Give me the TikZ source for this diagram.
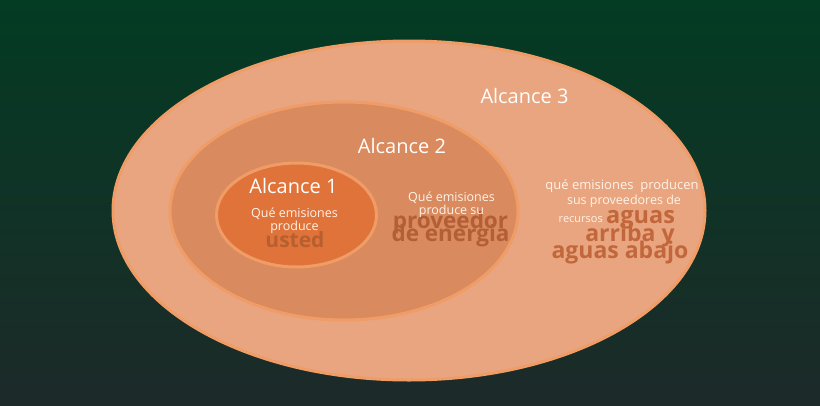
\documentclass[tikz,border=0pt]{standalone}
\usepackage{fontspec}
\setmainfont{Open Sans}
\definecolor{bgtop}{HTML}{033B23}
\definecolor{bgbot}{HTML}{1D2A29}
\definecolor{rim}{HTML}{F09C66}
\definecolor{outerfill}{HTML}{E8A57F}
\definecolor{midfill}{HTML}{D98A5E}
\definecolor{innerfill}{HTML}{E0733A}
\definecolor{boldout}{HTML}{C2673B}
\definecolor{boldmid}{HTML}{B45E36}
\definecolor{boldin}{HTML}{B65F30}
\definecolor{lighttext}{HTML}{FFF3E8}
\tikzset{
  ring/.style={draw=rim, line width=3pt},
  title/.style={text=white, font=\fontsize{20}{20}\selectfont, anchor=base, inner sep=0pt},
  small/.style={text=lighttext, font=\fontsize{12.5}{12.5}\selectfont, anchor=base, inner sep=0pt},
  big/.style={font=\bfseries\fontsize{21}{21}\selectfont, anchor=base, inner sep=0pt}
}
\begin{document}
\begin{tikzpicture}[x=1pt,y=-1pt]
\shade[top color=bgtop, bottom color=bgbot] (0,0) rectangle (820,405);
\useasboundingbox (0,0) rectangle (820,405);
% ellipses
\fill[outerfill] (409,210.5) ellipse [x radius=296, y radius=169.5];
\draw[ring] (409,210.5) ellipse [x radius=296, y radius=169.5];
\fill[midfill] (344,211) ellipse [x radius=174, y radius=109];
\draw[ring] (344,211) ellipse [x radius=174, y radius=109];
\fill[innerfill] (296.5,215) ellipse [x radius=80, y radius=52];
\draw[ring] (296.5,215) ellipse [x radius=80, y radius=52];
% scope 3
\node[title] (t3) at (524.5,103) {Alcance 3};
\node[small, font=\fontsize{13}{13}\selectfont] (r1) at (622,189) {qué emisiones\ \ producen};
\node[small] (r2) at (624,204) {sus proveedores de};
\node[small, font=\fontsize{11}{11}\selectfont, anchor=base east] (r3) at (603,222) {recursos};
\node[big, text=boldout, font=\bfseries\fontsize{23.5}{23.5}\selectfont, anchor=base west] (b1) at (606,223) {aguas};
\node[big, text=boldout, font=\bfseries\fontsize{23}{23}\selectfont] (b2) at (630,241) {arriba y};
\node[big, text=boldout, font=\bfseries\fontsize{23}{23}\selectfont] (b3) at (620,258) {aguas\ abajo};
% scope 2
\node[title] (t2) at (402,153) {Alcance 2};
\node[big, text=boldmid, font=\bfseries\fontsize{22.5}{22.5}\selectfont] (m3) at (450.5,228) {proveedor};
\node[big, text=boldmid, font=\bfseries\fontsize{22.5}{22.5}\selectfont] (m4) at (450.5,241) {de energia};
\node[small] (m1) at (451.5,201) {Qué emisiones};
\node[small] (m2) at (451.5,214) {produce su};
% scope 1
\node[title] (t1) at (293.5,193) {Alcance 1};
\node[big, text=boldin] (i3) at (295,247) {usted};
\node[small] (i1) at (294.5,217) {Qué emisiones};
\node[small] (i2) at (294.5,230.5) {produce};
\end{tikzpicture}
\end{document}
